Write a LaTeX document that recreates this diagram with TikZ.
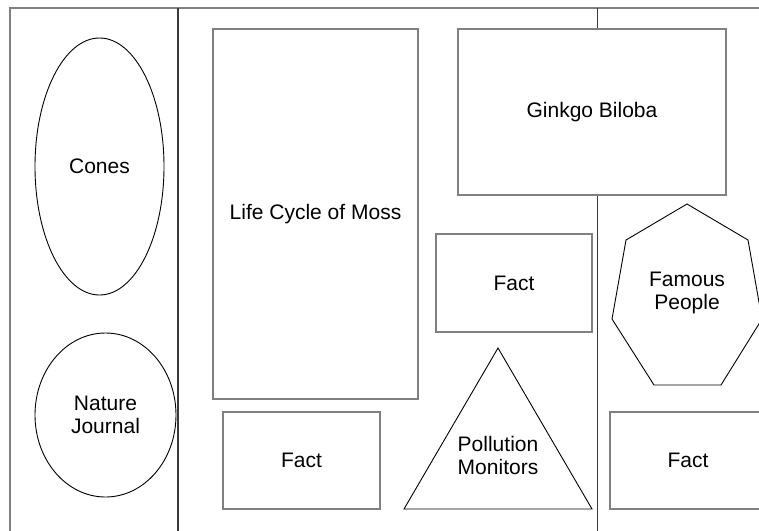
\documentclass[tikz,border=0pt]{standalone}
\usepackage{fontspec}
\setmainfont{Liberation Sans}
\usetikzlibrary{shapes.geometric}
\definecolor{framegray}{HTML}{808080}
\definecolor{divgray}{HTML}{3A3A3A}
\begin{document}
\begin{tikzpicture}[x=1pt,y=-1pt,
  box/.style={draw=framegray, fill=white, line width=1.3pt, inner sep=0pt, outer sep=0pt,
    font=\fontsize{21}{23}\selectfont, align=center},
  oval/.style={ellipse, draw=black, fill=white, line width=0.9pt, inner sep=0pt,
    font=\fontsize{21}{23}\selectfont, align=center},
  poly/.style={draw=black, fill=white, line width=0.9pt, line join=miter},
  lbl/.style={font=\fontsize{21}{23}\selectfont, align=center, inner sep=0pt},
  frameline/.style={draw=framegray, line width=1.3pt},
  divider/.style={draw=divgray, line width=1.3pt}]
\useasboundingbox (0,0) rectangle (759,530);
\fill[white] (0,0) rectangle (759,530);
\begin{scope}
\clip (0,0) rectangle (759,530);
% frame
\coordinate (ftl) at (10,8);
\coordinate (ftr) at (770,8);
\coordinate (fbl) at (10,540);
\draw[frameline] (fbl) -- (ftl) -- (ftr);
\coordinate (d1t) at (178,8);
\coordinate (d1b) at (178,540);
\coordinate (d2t) at (597.7,8);
\coordinate (d2b) at (597.7,540);
\draw[divider] (d1t) -- (d1b);
\draw[divider] (d2t) -- (d2b);
% left column
\node[oval, minimum width=129pt, minimum height=257pt] (cones) at (99.5,166.5) {Cones};
\node[oval, minimum width=141pt, minimum height=164pt] (journal) at (105.5,415) {Nature\\Journal};
% middle column
\node[box, minimum width=205pt, minimum height=370pt] (moss) at (315.5,214) {Life Cycle of Moss};
\node[box, minimum width=268pt, minimum height=166pt] (ginkgo) at (592,112) {Ginkgo Biloba};
\node[box, minimum width=156pt, minimum height=98pt] (fact1) at (514,283) {Fact};
\node[box, minimum width=157pt, minimum height=97pt] (fact2) at (301.5,460.5) {Fact};
% triangle
\coordinate (ta) at (498,348);
\coordinate (tl) at (404,509);
\coordinate (tr) at (592,509);
\draw[poly] (ta) -- (tr) -- (tl) -- cycle;
\node[lbl] (pollution) at (498,455) {Pollution\\Monitors};
% heptagon
\coordinate (h1) at (687,204);
\coordinate (h2) at (748,240);
\coordinate (h3) at (762,319);
\coordinate (h4) at (721,385);
\coordinate (h5) at (654,385);
\coordinate (h6) at (612,319);
\coordinate (h7) at (626,240);
\draw[poly] (h1) -- (h2) -- (h3) -- (h4) -- (h5) -- (h6) -- (h7) -- cycle;
\node[lbl] (famous) at (687,293) {Famous\\People};
\node[box, minimum width=156pt, minimum height=97pt] (fact3) at (688,460.5) {Fact};
\end{scope}
\end{tikzpicture}
\end{document}
